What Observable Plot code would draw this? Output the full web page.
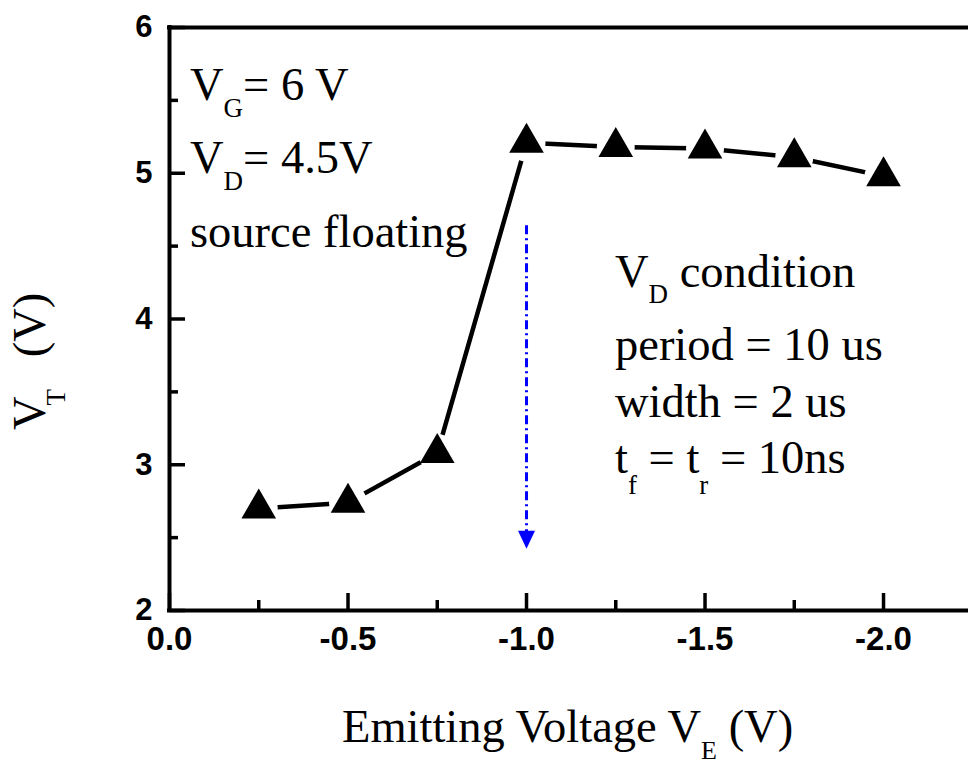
<!DOCTYPE html>
<html><head><meta charset="utf-8">
<script src="https://cdn.jsdelivr.net/npm/d3@7"></script>
<script src="https://cdn.jsdelivr.net/npm/@observablehq/plot@0.6"></script>
<style>html,body{margin:0;padding:0;background:#fff;overflow:hidden}</style>
</head><body><div id="chart"></div>
<script>
// ---- data ----
const emitV = [-0.25, -0.5, -0.75, -1.0, -1.25, -1.5, -1.75, -2.0];
const vt    = [2.70, 2.74, 3.08, 5.21, 5.18, 5.17, 5.11, 4.98];
const xMajor = [0, -0.5, -1.0, -1.5, -2.0];
const xMinor = [-0.25, -0.75, -1.25, -1.75];
const xTickLabels = ["0.0", "-0.5", "-1.0", "-1.5", "-2.0"];
const yMajor = [2, 3, 4, 5, 6];
const yMinor = [2.5, 3.5, 4.5, 5.5];
const yTickLabels = ["2", "3", "4", "5", "6"];
const arrowX = [-1.0];
const arrowTop = [4.64];
const arrowEnd = [2.54];
const arrowTip = [2.485];

const data = emitV.map((x, i) => ({x, y: vt[i]}));
const arrow = arrowX.map((x, i) => ({x, y1: arrowTop[i], y2: arrowEnd[i], tip: arrowTip[i]}));

const W = 968, H = 765, mL = 169, mR = 0, mT = 27, mB = 155;
const plotW = W - mL - mR, plotH = H - mT - mB;
const sans = "'Liberation Sans', Arial, sans-serif";
const serif = "'Liberation Serif', 'Times New Roman', serif";

const arrowHead = {draw(ctx) { ctx.moveTo(-8.5, -9); ctx.lineTo(8.5, -9); ctx.lineTo(0, 9); ctx.closePath(); }};

const plot = Plot.plot({
  width: W, height: H,
  marginLeft: mL, marginRight: mR, marginTop: mT, marginBottom: mB,
  x: {domain: [0, -2.238], axis: null},
  y: {domain: [2, 6], axis: null},
  style: {background: "white"},
  marks: [
    // frame (left, top, bottom)
    Plot.ruleX([0], {strokeWidth: 4, strokeLinecap: "square"}),
    Plot.ruleY([2], {strokeWidth: 4, strokeLinecap: "square"}),
    Plot.ruleY([6], {strokeWidth: 4, strokeLinecap: "square"}),
    // inward ticks
    Plot.tickX(xMajor, {x: d => d, strokeWidth: 3.5, insetTop: plotH - 17}),
    Plot.tickX(xMinor, {x: d => d, strokeWidth: 3.5, insetTop: plotH - 10}),
    Plot.tickY(yMajor, {y: d => d, strokeWidth: 3.5, insetRight: plotW - 16}),
    Plot.tickY(yMinor, {y: d => d, strokeWidth: 3.5, insetRight: plotW - 9}),
    // tick labels
    Plot.text(xMajor, {x: d => d, text: (d, i) => xTickLabels[i], frameAnchor: "bottom", dy: 39,
      fontSize: 33, fontWeight: "bold", fontFamily: sans, fill: "black"}),
    Plot.text(yMajor, {y: d => d, text: (d, i) => yTickLabels[i], frameAnchor: "left", textAnchor: "end", dx: -17,
      fontSize: 31, fontWeight: "bold", fontFamily: sans, fill: "black"}),
    // blue arrow
    Plot.ruleX(arrow, {x: "x", y1: "y1", y2: "y2", stroke: "#0000ff", strokeWidth: 3, strokeDasharray: "9,4,2,4"}),
    Plot.dot(arrow, {x: "x", y: "tip", symbol: arrowHead, fill: "#0000ff", stroke: "none"}),
    // data line with gaps around markers
    Plot.line(data, {x: "x", y: "y", stroke: "black", strokeWidth: 4.5, strokeLinecap: "round", strokeLinejoin: "round"}),
    Plot.dot(data, {x: "x", y: "y", r: 19, fill: "white", stroke: "none"}),
    Plot.dot(data, {x: "x", y: "y", r: 12.86, symbol: "triangle", fill: "black", stroke: "none"})
  ]
});
document.getElementById("chart").appendChild(plot);

// ---- rich text annotations ----
const svg = d3.select(plot);
function rich(g, x, y, parts, {size = 46.5, subSize = 27, shift = 18, transform = null} = {}) {
  const t = g.append("text")
    .attr("x", x).attr("y", y)
    .attr("text-anchor", "start")
    .attr("font-family", serif).attr("font-size", size).attr("fill", "black")
    .style("white-space", "pre");
  if (transform) t.attr("transform", transform);
  let cur = 0;
  for (const p of parts) {
    const [s, sub, dx] = p;
    const target = sub ? shift : 0;
    const ts = t.append("tspan").attr("dy", target - cur).attr("font-size", sub ? subSize : size).text(s);
    if (dx) ts.attr("dx", dx);
    cur = target;
  }
  return t;
}
const g = svg.append("g").attr("text-anchor", "start");
rich(g, 190, 100, [["V"], ["G", 1], ["= 6 V"]], {shift: 17});
rich(g, 190, 173, [["V"], ["D", 1], ["= 4.5V"]], {shift: 17});
rich(g, 190, 247, [["source floating"]]);
rich(g, 615, 287, [["V"], ["D", 1], [" condition"]], {shift: 16});
rich(g, 615, 360, [["period = 10 us"]]);
rich(g, 615, 417, [["width = 2 us"]]);
rich(g, 615, 473, [["t"], ["f", 1], [" = t"], ["r", 1], [" = 10ns"]], {shift: 21});
rich(g, 342, 742, [["Emitting Voltage V"], ["E", 1], [" (V)"]], {shift: 17, subSize: 26});
rich(g, 0, 0, [["V"], ["T", 1, -9], [" (V)", 0, 20]], {shift: 20, transform: "translate(45,430) rotate(-90)"});
</script>
</body></html>
